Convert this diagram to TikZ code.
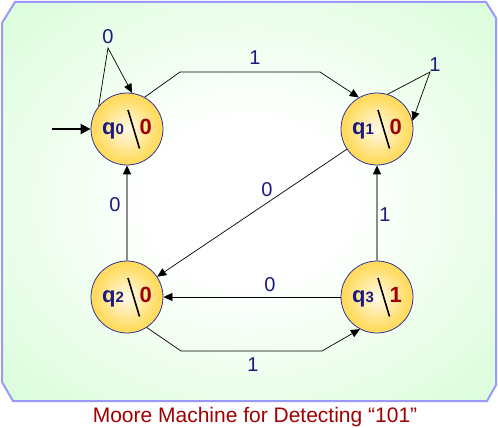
\documentclass[tikz,border=0pt]{standalone}
\usepackage{fontspec}
\setmainfont{Liberation Sans}
\usetikzlibrary{arrows.meta}
\definecolor{navy}{HTML}{1A1A80}
\definecolor{dred}{HTML}{A00000}
\definecolor{bgedge}{HTML}{C8FCC8}
\definecolor{framec}{HTML}{9999FF}
\definecolor{ballin}{HTML}{FFFAE8}
\definecolor{ballmid}{HTML}{FFDC62}
\definecolor{ballout}{HTML}{FFC81E}
\definecolor{ballline}{HTML}{333399}
\definecolor{vline}{HTML}{8C8C8C}
\pgfdeclareradialshading{ballshade}{\pgfpoint{0bp}{0bp}}{color(0bp)=(ballin); color(22bp)=(ballmid); color(50bp)=(ballout)}
\pgfdeclareradialshading{bgshade}{\pgfpoint{0bp}{0bp}}{color(0bp)=(white); color(10bp)=(white); color(48bp)=(bgedge); color(70bp)=(bgedge)}
\newcommand\stxt[2]{{\color{navy}\fontsize{22}{26}\selectfont\bfseries q{\fontsize{15}{17}\selectfont #1}}\hspace{15.5pt}{\color{dred}\fontsize{22}{26}\selectfont\bfseries #2}}
\tikzset{
  statenode/.style={circle, minimum size=72pt, inner sep=0pt, draw=ballline, line width=0.8pt, shading=ballshade},
  slash/.style={line width=1.6pt, black},
  edge/.style={line width=0.7pt, black, -{Triangle[length=9pt,width=8pt]}},
  gedge/.style={line width=1.3pt, vline, -{Triangle[length=9pt,width=8pt,color=black]}},
  initedge/.style={line width=1.8pt, black, -{Triangle[length=10pt,width=10pt]}},
  lbl/.style={text=navy, font=\fontsize{20}{24}\selectfont, inner sep=0pt},
  captionlbl/.style={text=dred, font=\fontsize{21}{25}\selectfont, inner sep=0pt},
}
\begin{document}
\begin{tikzpicture}[x=1pt,y=-1pt]
\useasboundingbox (0,0) rectangle (498,428);
\shade[shading=bgshade, draw=framec, line width=2pt] (2,23) -- (15,2) -- (486,2) -- (496,18) -- (496,385) -- (487,401) -- (13,401) -- (2,382) -- cycle;
% states
\node[statenode] (q0) at (127,129) {\stxt{0}{0}};
\node[statenode] (q1) at (377,129) {\stxt{1}{0}};
\node[statenode] (q2) at (127,297) {\stxt{2}{0}};
\node[statenode] (q3) at (377,297) {\stxt{3}{1}};
\foreach \q in {q0,q1,q2,q3}{
  \draw[slash] ([shift={(1,-19)}]\q.center) -- ([shift={(12.5,19.5)}]\q.center);
}
% helper coordinates
\coordinate (start) at (52,129);
\coordinate (a0) at (108,48);
\coordinate (a1) at (430,72);
\coordinate (t1) at (180,72);
\coordinate (t2) at (320,72);
\coordinate (b1) at (181,351);
\coordinate (b2) at (322,351);
% edges
\draw[initedge] (start) -- (q0.west);
\draw[edge] (q0.141) -- (a0) -- (q0.82);
\draw[edge] (q1.73) -- (a1) -- (q1.13);
\draw[edge] (q0.61) -- (t1) -- (t2) -- (q1.120);
\draw[edge] (q1) -- (q2);
\draw[gedge] (q2) -- (q0);
\draw[gedge] (q3) -- (q1);
\draw[edge] (q3) -- (q2);
\draw[edge] (q2.-57) -- (b1) -- (b2) -- (q3.242);
% labels
\node[lbl] (l00) at (108,37) {0};
\node[lbl] (l01) at (255,58) {1};
\node[lbl] (l11) at (435,65) {1};
\node[lbl] (l12) at (267,190) {0};
\node[lbl] (l20) at (115,205) {0};
\node[lbl] (l31) at (385,215) {1};
\node[lbl] (l32) at (270,285) {0};
\node[lbl] (l23) at (253,365) {1};
\node[captionlbl] (cap) at (255,417.5) {Moore Machine for Detecting “101”};
\end{tikzpicture}
\end{document}
